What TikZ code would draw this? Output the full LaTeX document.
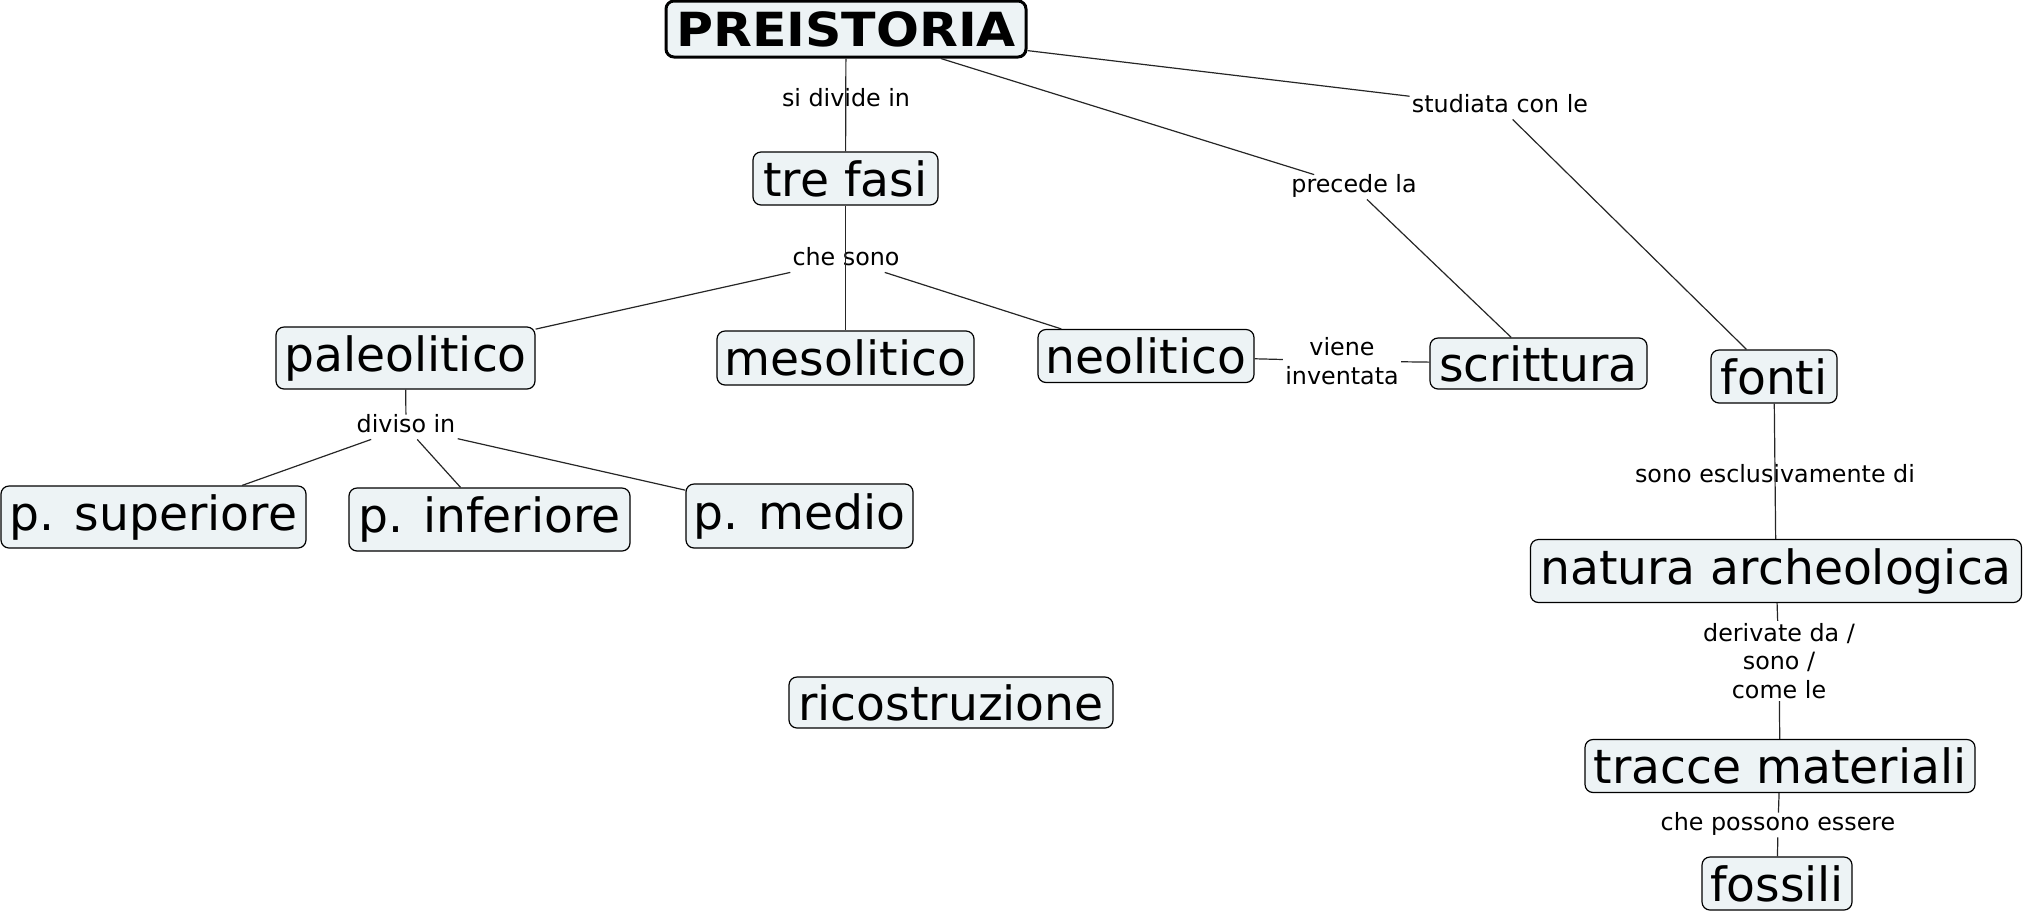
\documentclass[tikz,border=0pt]{standalone}
\usepackage{fontspec}
\setmainfont{DejaVu Sans}
\definecolor{cfill}{RGB}{237,243,245}
\begin{document}
\begin{tikzpicture}[x=0.5pt,y=-0.5pt,
  concept/.style={draw=black,line width=0.6pt,fill=cfill,rounded corners=4pt,inner sep=0pt,
    font=\fontsize{23.6pt}{27pt}\selectfont},
  lbl/.style={inner sep=1pt,font=\fontsize{11.9pt}{14.25pt}\selectfont,text height=0.76em,text depth=0.24em},
  mlbl/.style={inner sep=1pt,font=\fontsize{11.9pt}{14.25pt}\selectfont,align=center},
  conn/.style={line width=0.6pt,draw=black!85}]
\useasboundingbox (0,0) rectangle (2025,912);
% concepts
\node[concept,line width=1.5pt,minimum width=180pt,minimum height=28pt] (pre) at (846,29)
  {\fontsize{23.5pt}{27pt}\selectfont\scalebox{1.075}[1]{\bfseries PREISTORIA}};
\node[concept,minimum width=92.5pt,minimum height=26.5pt] (tre) at (845.5,178.5) {tre fasi};
\node[concept,minimum width=129.5pt,minimum height=31pt] (paleo) at (405.5,358) {paleolitico};
\node[concept,minimum width=128.5pt,minimum height=27pt] (meso) at (845.5,358) {mesolitico};
\node[concept,minimum width=108pt,minimum height=26.5pt] (neo) at (1146,356) {neolitico};
\node[concept,minimum width=108.5pt,minimum height=25.5pt] (scr) at (1538.5,363.5) {scrittura};
\node[concept,minimum width=63pt,minimum height=26.5pt] (fonti) at (1774,376.5) {fonti};
\node[concept,minimum width=152.5pt,minimum height=31pt] (psup) at (153.5,517) {p. superiore};
\node[concept,minimum width=140.5pt,minimum height=31.5pt] (pinf) at (489.5,519.5) {p. inferiore};
\node[concept,minimum width=113.5pt,minimum height=32pt] (pmed) at (799.5,516) {p. medio};
\node[concept,minimum width=162pt,minimum height=25.5pt] (ric) at (951,702.5) {ricostruzione};
\node[concept,minimum width=245.5pt,minimum height=31.5pt] (nat) at (1776,571) {natura archeologica};
\node[concept,minimum width=195pt,minimum height=26.5pt] (tra) at (1780,766) {tracce materiali};
\node[concept,minimum width=75pt,minimum height=26.5pt] (fos) at (1777,883.5) {fossili};
% link labels
\node[lbl] (l1) at (846,101) {si divide in};
\node[lbl] (l2) at (846,260) {che sono};
\node[lbl] (l3) at (1354,187) {precede la};
\node[lbl] (l4) at (1500,107) {studiata con le};
\node[mlbl] (l5) at (1342,361) {viene\\inventata};
\node[lbl] (l6) at (406,427) {diviso in};
\node[lbl] (l7) at (1775,477) {sono esclusivamente di};
\node[mlbl] (l8) at (1779,661) {derivate da /\\sono /\\come le};
\node[lbl] (l9) at (1778,825) {che possono essere};
% connectors
\draw[conn] (pre) -- (tre);
\draw[conn] (tre) -- (meso);
\draw[conn] (l2) -- (paleo);
\draw[conn] (l2) -- (neo);
\draw[conn] (pre) -- (l3) -- (scr);
\draw[conn] (pre) -- (l4) -- (fonti);
\draw[conn] (neo) -- (l5) -- (scr);
\draw[conn] (paleo) -- (l6);
\draw[conn] (l6) -- (psup);
\draw[conn] (l6) -- (pinf);
\draw[conn] (l6) -- (pmed);
\draw[conn] (fonti) -- (nat);
\draw[conn] (nat) -- (l8) -- (tra);
\draw[conn] (tra) -- (l9) -- (fos);
\end{tikzpicture}
\end{document}
